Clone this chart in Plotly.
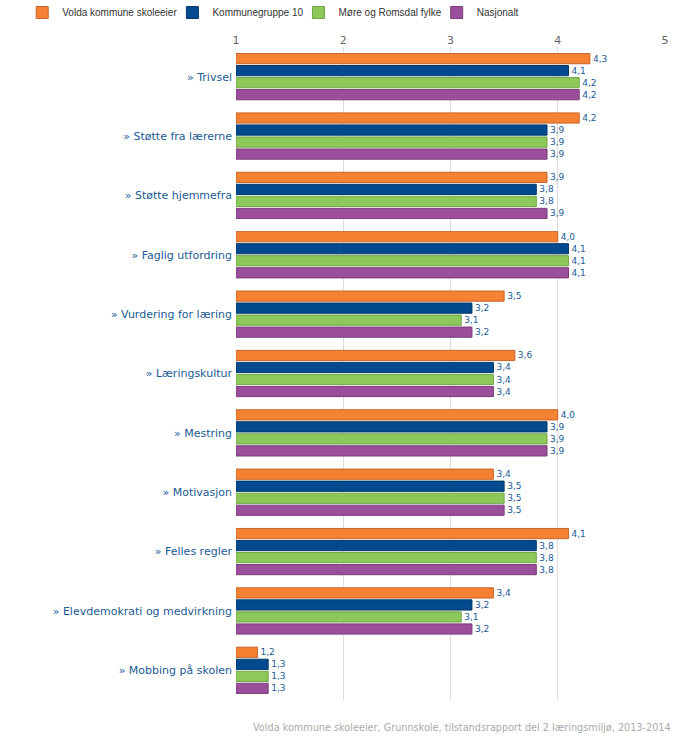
import plotly.graph_objects as go

categories = ["» Trivsel", "» Støtte fra lærerne", "» Støtte hjemmefra", "» Faglig utfordring",
              "» Vurdering for læring", "» Læringskultur", "» Mestring", "» Motivasjon",
              "» Felles regler", "» Elevdemokrati og medvirkning", "» Mobbing på skolen"]
volda = [4.3, 4.2, 3.9, 4.0, 3.5, 3.6, 4.0, 3.4, 4.1, 3.4, 1.2]
kommunegruppe = [4.1, 3.9, 3.8, 4.1, 3.2, 3.4, 3.9, 3.5, 3.8, 3.2, 1.3]
more_romsdal = [4.2, 3.9, 3.8, 4.1, 3.1, 3.4, 3.9, 3.5, 3.8, 3.1, 1.3]
nasjonalt = [4.2, 3.9, 3.9, 4.1, 3.2, 3.4, 3.9, 3.5, 3.8, 3.2, 1.3]
series_names = ["Volda kommune skoleeier", "Kommunegruppe 10", "Møre og Romsdal fylke", "Nasjonalt"]
colors = ["#F58233", "#004A8D", "#8CC85A", "#9A4E9C"]
edge_colors = ["#C8652A", "#00386B", "#6FA545", "#7A3D7C"]
footer = "Volda kommune skoleeier, Grunnskole, tilstandsrapport del 2 læringsmiljø, 2013-2014"

fig = go.Figure()
for name, vals, c, ec in zip(series_names, [volda, kommunegruppe, more_romsdal, nasjonalt], colors, edge_colors):
    fig.add_trace(go.Bar(
        y=categories, x=[v - 1 for v in vals], base=1, orientation="h", name=name,
        marker=dict(color=c, line=dict(color=ec, width=1)),
        text=[f"{v:.1f}".replace(".", ",") for v in vals],
        textposition="outside", textfont=dict(size=9, color="#1A5A96", family="DejaVu Sans"),
        cliponaxis=False, hoverinfo="skip",
    ))

fig.update_layout(
    width=695, height=737,
    margin=dict(l=236, r=30, t=47, b=37, autoexpand=False),
    paper_bgcolor="white", plot_bgcolor="white",
    barmode="group", bargap=0.19, bargroupgap=0.15,
    font=dict(family="DejaVu Sans", size=11, color="#333333"),
    showlegend=True,
    legend=dict(orientation="h", x=-0.475, xref="paper", xanchor="left", y=1.075, yref="paper", yanchor="top",
                font=dict(size=10, color="#333333", family="Liberation Sans"), traceorder="normal",
                itemwidth=30, tracegroupgap=0, indentation=-10),
    xaxis=dict(range=[1, 5], side="top", tickvals=[1, 2, 3, 4, 5], showgrid=True, gridcolor="#DDDDDD",
               zeroline=False, showline=False, tickfont=dict(size=11, color="#666666"), ticks="", fixedrange=True),
    yaxis=dict(autorange="reversed", tickfont=dict(size=11, color="#1A5A96"), ticks="", ticklen=0,
               showline=False, showgrid=False, ticklabelstandoff=3),
    annotations=[dict(text=footer, xref="paper", yref="paper", x=1.0, xshift=8, y=-(727 - 700) / 653,
                      xanchor="right", yanchor="middle", showarrow=False,
                      font=dict(size=9.7, color="#AAAAAA"))],
)

fig.write_html("out.html", config={"displayModeBar": False},
               post_script="document.body.style.margin='0px';")
